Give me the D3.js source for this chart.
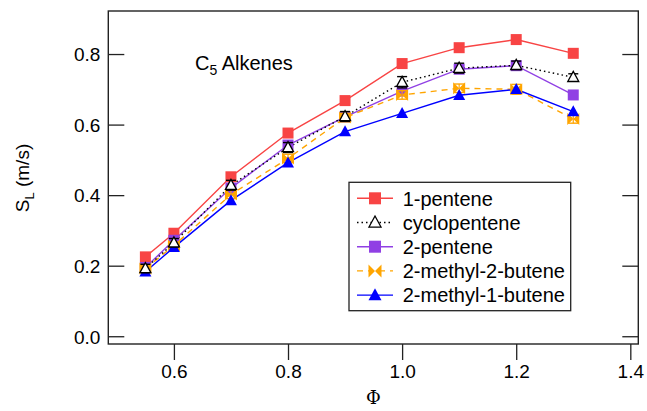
<!DOCTYPE html>
<html><head><meta charset="utf-8">
<script src="https://cdn.jsdelivr.net/npm/d3@7"></script>
<style>
html,body{margin:0;padding:0;background:#fff;}
svg text{font-family:"Liberation Sans",Arial,Helvetica,sans-serif;fill:#000;}
</style></head>
<body><svg id="c" width="647" height="411"></svg>
<script>
const phi = [0.55, 0.6, 0.7, 0.8, 0.9, 1.0, 1.1, 1.2, 1.3];
const pentene1 = [0.225, 0.292, 0.452, 0.576, 0.668, 0.773, 0.818, 0.841, 0.802];
const cyclopentene = [0.192, 0.265, 0.428, 0.535, 0.623, 0.720, 0.760, 0.768, 0.734];
const cycloErr = [0.012, 0.012, 0.014, 0.014, 0.014, 0.016, 0.014, 0.012, 0.010];
const pentene2 = [0.195, 0.272, 0.420, 0.542, 0.622, 0.695, 0.757, 0.767, 0.684];
const methyl2butene2 = [0.192, 0.257, 0.402, 0.504, 0.620, 0.684, 0.703, 0.700, 0.616];
const methylErr = [0.010, 0.010, 0.012, 0.012, 0.012, 0.012, 0.012, 0.014, 0.012];
const methyl1butene2 = [0.183, 0.252, 0.385, 0.492, 0.580, 0.632, 0.683, 0.700, 0.637];
const xTicks = [0.6, 0.8, 1.0, 1.2, 1.4];
const yTicks = [0.0, 0.2, 0.4, 0.6, 0.8];
const seriesNames = ["1-pentene", "cyclopentene", "2-pentene", "2-methyl-2-butene", "2-methyl-1-butene"];

const series = [
  {name: seriesNames[0], vals: pentene1, err: null, color: "#f84444", dash: null, marker: "square"},
  {name: seriesNames[1], vals: cyclopentene, err: cycloErr, color: "#000", dash: "1.5,3", marker: "opentri"},
  {name: seriesNames[2], vals: pentene2, err: null, color: "#9040e4", dash: null, marker: "square"},
  {name: seriesNames[3], vals: methyl2butene2, err: methylErr, color: "#ffa500", dash: "6,5", marker: "bowtie"},
  {name: seriesNames[4], vals: methyl1butene2, err: null, color: "#0000ff", dash: null, marker: "tri"}
];
const drawOrder = [0, 2, 3, 4, 1];

const svg = d3.select("#c");
const L = 108.3, R = 638.3, T = 11, B = 344;
const x = d3.scaleLinear().domain([0.485, 1.414]).range([L, R]);
const y = d3.scaleLinear().domain([-0.022, 0.922]).range([B, T]);

// axes
const fs = 19;
const xAxis = d3.axisBottom(x).tickValues(xTicks).tickFormat(d3.format(".1f")).tickSizeInner(16).tickSizeOuter(0).tickPadding(5);
const gx = svg.append("g").attr("transform", `translate(0,${B})`).call(xAxis);
const yAxis = d3.axisLeft(y).tickValues(yTicks).tickFormat(d3.format(".1f")).tickSizeInner(-16).tickSizeOuter(0).tickPadding(8);
const gy = svg.append("g").attr("transform", `translate(${L},0)`).call(yAxis);
const yAxisR = d3.axisRight(y).tickValues(yTicks).tickFormat("").tickSizeInner(-16).tickSizeOuter(0);
const gyr = svg.append("g").attr("transform", `translate(${R},0)`).call(yAxisR);
[gx, gy, gyr].forEach(g => {
  g.select(".domain").remove();
  g.selectAll(".tick line").attr("stroke", "#222").attr("stroke-width", 1.3);
  g.selectAll(".tick text").style("font-size", fs + "px").attr("fill", "#000");
});
gy.selectAll(".tick text").attr("x", -8).attr("dy", "0.36em");
svg.append("rect").attr("x", L).attr("y", T).attr("width", R - L).attr("height", B - T)
  .attr("fill", "none").attr("stroke", "#222").attr("stroke-width", 1.4);

// markers
function drawMarker(g, m, cx, cy, color, s) {
  if (m === "square") {
    g.append("rect").attr("x", cx - s/2).attr("y", cy - s/2).attr("width", s).attr("height", s).attr("fill", color);
  } else if (m === "tri") {
    const h = s * 0.95;
    g.append("path").attr("d", `M${cx},${cy - h*0.6}L${cx + s/2 + 0.5},${cy + h*0.45}L${cx - s/2 - 0.5},${cy + h*0.45}Z`).attr("fill", color);
  } else if (m === "opentri") {
    const h = s * 0.9;
    g.append("path").attr("d", `M${cx},${cy - h*0.6}L${cx + s/2},${cy + h*0.42}L${cx - s/2},${cy + h*0.42}Z`)
      .attr("fill", "#fff").attr("stroke", color).attr("stroke-width", 1.3);
  } else if (m === "bowtie") {
    const w = s/2 + 0.5, h = s/2 + 0.5;
    g.append("path").attr("d", `M${cx - w},${cy - h}L${cx},${cy}L${cx - w},${cy + h}Z M${cx + w},${cy - h}L${cx},${cy}L${cx + w},${cy + h}Z`).attr("fill", color);
  }
}

const line = d3.line().x((d, i) => x(phi[i])).y(d => y(d));
drawOrder.forEach(k => {
  const s = series[k];
  svg.append("path").datum(s.vals).attr("d", line).attr("fill", "none")
    .attr("stroke", s.color).attr("stroke-width", 1.4)
    .attr("stroke-dasharray", s.dash);
});
drawOrder.forEach(k => {
  const s = series[k];
  const g = svg.append("g");
  s.vals.forEach((v, i) => {
    const cx = x(phi[i]), cy = y(v);
    if (s.err) {
      const e = s.err[i];
      g.append("line").attr("x1", cx).attr("x2", cx).attr("y1", y(v - e)).attr("y2", y(v + e)).attr("stroke", s.color).attr("stroke-width", 1.2);
      [v - e, v + e].forEach(t => g.append("line").attr("x1", cx - 5).attr("x2", cx + 5).attr("y1", y(t)).attr("y2", y(t)).attr("stroke", s.color).attr("stroke-width", 1.4));
    }
    drawMarker(g, s.marker, cx, cy, s.color, 11);
  });
});

// annotation
const ann = svg.append("text").attr("x", 195).attr("y", 70).style("font-size", "20px");
ann.append("tspan").text("C");
ann.append("tspan").text("5").style("font-size", "14px").attr("dy", 5);
ann.append("tspan").text(" Alkenes").attr("dy", -5);

// axis titles
const yl = svg.append("text").attr("transform", `translate(29,178) rotate(-90)`).attr("text-anchor", "middle").style("font-size", "19px");
yl.append("tspan").text("S");
yl.append("tspan").text("L").style("font-size", "13px").attr("dy", 5);
yl.append("tspan").text(" (m/s)").attr("dy", -5);
svg.append("text").attr("x", (L + R) / 2).attr("y", 404).attr("text-anchor", "middle")
  .style("font-size", "18px").style("font-family", "'DejaVu Serif',serif").text("Φ");

// legend
const lg = svg.append("g");
lg.append("rect").attr("x", 349).attr("y", 182.3).attr("width", 221.7).attr("height", 128.4)
  .attr("fill", "#fff").attr("stroke", "#222").attr("stroke-width", 1.3);
series.forEach((s, i) => {
  const cy = 198.3 + i * 24.2;
  lg.append("line").attr("x1", 357).attr("x2", 393).attr("y1", cy).attr("y2", cy)
    .attr("stroke", s.color).attr("stroke-width", 1.4).attr("stroke-dasharray", s.dash);
  drawMarker(lg, s.marker, 375, cy, s.color, 12);
  lg.append("text").attr("x", 402.7).attr("y", cy).attr("dy", "0.36em").style("font-size", "20px").text(s.name);
});
</script></body></html>
